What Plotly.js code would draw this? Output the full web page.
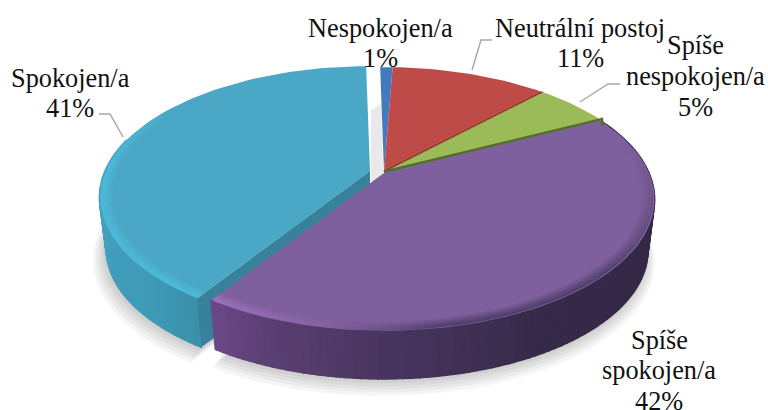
<!DOCTYPE html>
<html><head><meta charset="utf-8">
<script src="https://cdn.plot.ly/plotly-3.0.1.min.js"></script>
<style>html,body{margin:0;padding:0;background:#fff}#c{width:768px;height:410px}</style>
</head><body><div id="c"></div>
<script>
var categories = ["Nespokojen/a","Neutrální postoj","Spíše nespokojen/a","Spíše spokojen/a","Spokojen/a"];
var values = [0.9,11.45,5.45,41.6,40.6];
var faceColors = ["#4279bf","#be4b48","#9bbb59","#7e609e","#4aa7c5"];
var cutColors = ["#2f5a90","#7a2e2b","#566e2c","#4a3a62","#37829a"];
var explodeX = [0,0,0,0,-14];
var explodeY = [0,0,0,1,-1];

// projection of the tilted disc
var CX=384, CY=172, A=265, K=126, P=0.2016, DEPTH=52, BOT=0.975, ROT=-1;
function rad(d){return d*Math.PI/180;}
function proj(th,r,ox,oy,low){
  var u=r*Math.sin(rad(th)), v=r*Math.cos(rad(th)), d=1+P*v, s=low?BOT:1;
  return [CX+ox+s*A*u/d, CY+oy+(low?DEPTH:0)-s*K*v/d];
}
function hex(c){return [1,3,5].map(function(i){return parseInt(c.substr(i,2),16);});}
function mix(a,b,t){var x=hex(a),y=hex(b),o=[0,1,2].map(function(i){return Math.round(x[i]+(y[i]-x[i])*t);});
  return "rgb("+o.join(",")+")";}
function toHex(rgb){var m=rgb.match(/\d+/g);return "#"+m.map(function(n){return ("0"+(+n).toString(16)).slice(-2);}).join("");}
function ramp(stops,th){
  if(th<=stops[0][0])return stops[0][1];
  for(var i=1;i<stops.length;i++){ if(th<=stops[i][0]){
    var t=(th-stops[i-1][0])/(stops[i][0]-stops[i-1][0]);
    return toHex(mix(stops[i-1][1],stops[i][1],t)); } }
  return stops[stops.length-1][1];
}
var wallStops = {
  3:[[60,"#322844"],[150,"#352a48"],[180,"#48355f"],[200,"#5a3f72"],[216,"#6d4b8a"]],
  4:[[212,"#3a8fa8"],[225,"#3e9ab6"],[270,"#45a3c2"],[360,"#45a3c2"]]
};
var rimStops = {
  3:[[75,"#7e609e"],[105,"#68517f"],[135,"#503f6b"],[170,"#503f6b"],[190,"#8461a2"],[216,"#a574c4"]],
  4:[[212,"#4dbbd9"],[270,"#4cbcdc"],[290,"#4ab2d1"],[305,"#4aa7c5"],[360,"#4aa7c5"]]
};

var traces=[];
function poly(pts,color,lw){
  traces.push({type:"scatter",mode:"lines",x:pts.map(function(p){return p[0];}).concat([pts[0][0]]),
    y:pts.map(function(p){return p[1];}).concat([pts[0][1]]),fill:"toself",fillcolor:color,
    line:{color:lw?color:"rgba(0,0,0,0)",width:lw||0},hoverinfo:"skip",showlegend:false});
}
function line(pts,color,w){
  traces.push({type:"scatter",mode:"lines",x:pts.map(function(p){return p[0];}),y:pts.map(function(p){return p[1];}),
    line:{color:color,width:w},hoverinfo:"skip",showlegend:false});
}
// slice angles
var total=values.reduce(function(a,b){return a+b;},0), a0=ROT, starts=[], ends=[];
values.forEach(function(v){starts.push(a0); a0+=v/total*360; ends.push(a0);});

function arc(i,r,low,t1,t2){
  var o=[],n=Math.max(2,Math.ceil((t2-t1)/2));
  for(var k=0;k<=n;k++) o.push(proj(t1+(t2-t1)*k/n,r,explodeX[i],explodeY[i],low));
  return o;
}
function drawWall(i,from,to){
  var step=1.5;
  for(var t=from;t<to;t+=step){
    var e=Math.min(to,t+step);
    poly(arc(i,1,false,t,e).concat(arc(i,1,true,t,e).reverse()),ramp(wallStops[i],t+step/2),1.6);
  }
}
function drawFace(i){
  var c=[explodeX[i]+CX,explodeY[i]+CY];
  poly([c].concat(arc(i,1,false,starts[i],ends[i])),faceColors[i]);
}
function drawRim(i,from,to){
  // concentric strokes fade from the face colour to the rim colour
  var bands=[[.958,.2],[.966,.4],[.974,.6],[.982,.8],[.991,1]], step=2;
  bands.forEach(function(b){
    for(var t=from;t<to;t+=step){
      var e=Math.min(to,t+step);
      line(arc(i,b[0],false,t,e),mix(faceColors[i],ramp(rimStops[i],t+step/2),b[1]),2.2);
    }
  });
}
function cutFace(i,th){
  var a=proj(0,0,explodeX[i],explodeY[i],false), b=proj(th,1,explodeX[i],explodeY[i],false),
      c=proj(th,1,explodeX[i],explodeY[i],true), d=proj(0,0,explodeX[i],explodeY[i],true);
  poly([a,b,c,d],cutColors[i]);
}
function cutEdge(i,w){
  line([proj(0,0,explodeX[i],explodeY[i],false),proj(ends[i],1,explodeX[i],explodeY[i],false)],cutColors[i],w);
}
// soft shadow under the disc
[[1.036,8,10],[1.028,7,8],[1.02,6,6.5],[1.012,5,5],[1.006,4,3]].forEach(function(s){
  [[3,starts[3],ends[3]],[4,starts[4],ends[4]]].forEach(function(q){
    var i=q[0],pts=[];
    for(var t=q[1];t<=q[2];t+=4){var p=proj(t,s[0],explodeX[i]-s[1]*0.4,explodeY[i]+s[2],true);pts.push(p);}
    pts.push(proj(0,0,explodeX[i],explodeY[i],true));
    poly(pts,"rgba(60,60,60,0.05)");
  });
});
// faint shade in the gap beside the exploded slice
poly([[371,110],[381,104],[383,176],[371,186]],"rgba(120,120,120,0.16)");

// Spokojen/a (exploded, furthest left)
drawWall(4,starts[4],285);
cutFace(4,starts[4]);
drawFace(4);
drawRim(4,starts[4],305);
// Nespokojen/a
drawFace(0);
// Neutrální postoj
drawFace(1);
cutEdge(1,2);
// Spíše nespokojen/a
drawFace(2);
cutEdge(2,3);
// Spíše spokojen/a
drawWall(3,starts[3]+1,ends[3]);
drawFace(3);
drawRim(3,starts[3]+6,ends[3]);
// small dark notch where the green slice meets the purple rim
var notch=proj(ends[2],1,0,0,false);
line([[notch[0]+1,notch[1]-2],[notch[0]+2,notch[1]+6]],cutColors[2],3);

// leader lines
[[[472,70],[481,40],[492,40]],[[580,102],[608,84],[620,84]],[[123,137],[110,114],[99,114]]].forEach(function(l){
  line(l,"#a6a6a6",1.4);
});

function pct(i){return Math.round(values[i]/total*100)+"%";}
var labelFont={family:"Liberation Serif, Times New Roman, serif",size:26.3,color:"#111"};
function label(x,y,lines,gap){
  return lines.map(function(s,n){
    return {text:s,x:x,y:y+n*gap,xref:"x",yref:"y",showarrow:false,font:labelFont,xanchor:"center",yanchor:"middle"};
  });
}
var ann=[].concat(
  label(380,28,["Nespokojen/a",pct(0)],30.5),
  label(580,28,["Neutrální postoj",pct(1)],30.5),
  label(695,45,["Spíše","nespokojen/a",pct(2)],31),
  label(659,340,["Spíše","spokojen/a",pct(3)],30.5),
  label(70,78,["Spokojen/a",pct(4)],30.5)
);
Plotly.newPlot("c",traces,{
  width:768,height:410,margin:{l:0,r:0,t:0,b:0},paper_bgcolor:"#fff",plot_bgcolor:"#fff",showlegend:false,hovermode:false,
  xaxis:{range:[0,768],visible:false,fixedrange:true},
  yaxis:{range:[410,0],visible:false,fixedrange:true},
  annotations:ann
},{staticPlot:true,displayModeBar:false});
</script></body></html>
